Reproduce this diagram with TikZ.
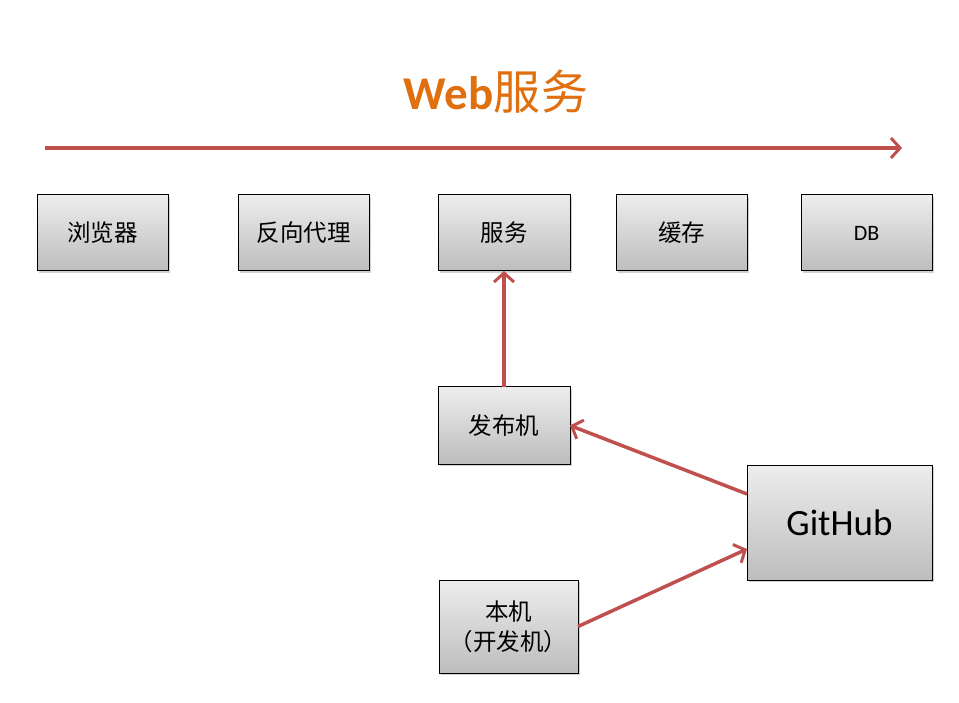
\documentclass[tikz,border=0pt]{standalone}
\usepackage{fontspec}
\setmainfont{Carlito}
\newfontfamily\cjk{Noto Sans CJK SC}
\usetikzlibrary{arrows.meta,shadows}
\definecolor{arrowred}{HTML}{C0504D}
\definecolor{titleorange}{HTML}{E0700F}
\definecolor{boxtop}{HTML}{EDEDED}
\definecolor{boxbot}{HTML}{BDBDBD}
\tikzset{
  box/.style={draw=black, line width=1pt, top color=boxtop, bottom color=boxbot,
    inner sep=0pt, outer sep=0pt, align=center,
    drop shadow={shadow xshift=2pt, shadow yshift=-2pt, opacity=0.3, fill=black!60}},
  cjktext/.style={font=\cjk\fontsize{23.5}{30}\selectfont},
  link/.style={draw=arrowred, line width=3.5pt, -{Straight Barb[length=9pt,width=20pt,line width=3pt]}},
}
\begin{document}
\begin{tikzpicture}[x=1pt,y=-1pt]
\useasboundingbox (0,0) rectangle (959,703);
\node[text=titleorange, font=\fontsize{47}{50}\selectfont] (title) at (496,92) {\bfseries Web{\cjk\mdseries 服\hspace{1pt}务}};
\coordinate (a0) at (45,148);
\coordinate (a1) at (902,148);
\draw[link] (a0) -- (a1);

\node[box, cjktext, minimum width=131pt, minimum height=76pt] (browser) at (102.5,233) {浏览器};
\node[box, cjktext, minimum width=131pt, minimum height=76pt] (proxy) at (303.5,233) {反向代理};
\node[box, cjktext, minimum width=132pt, minimum height=76pt] (service) at (504,233) {服务};
\node[box, cjktext, minimum width=131pt, minimum height=76pt] (cache) at (681.5,233) {缓存};
\node[box, font=\fontsize{22}{26}\selectfont, minimum width=131pt, minimum height=76pt] (db) at (866.5,233) {DB};
\node[box, cjktext, minimum width=132pt, minimum height=77pt] (publish) at (504,425.5) {发布机};
\node[box, font=\fontsize{37}{40}\selectfont, minimum width=185pt, minimum height=115pt] (github) at (839.5,522.5) {GitHub};
\node[box, cjktext, minimum width=139pt, minimum height=93pt] (local) at (508.5,626.5) {本机\\（开发机）};

\draw[link] (publish.north) -- (service.south);
\draw[link] ([yshift=28.5pt]github.west) -- (publish.east);
\draw[link] (local.east) -- ([yshift=-26.5pt]github.west);
\end{tikzpicture}
\end{document}
